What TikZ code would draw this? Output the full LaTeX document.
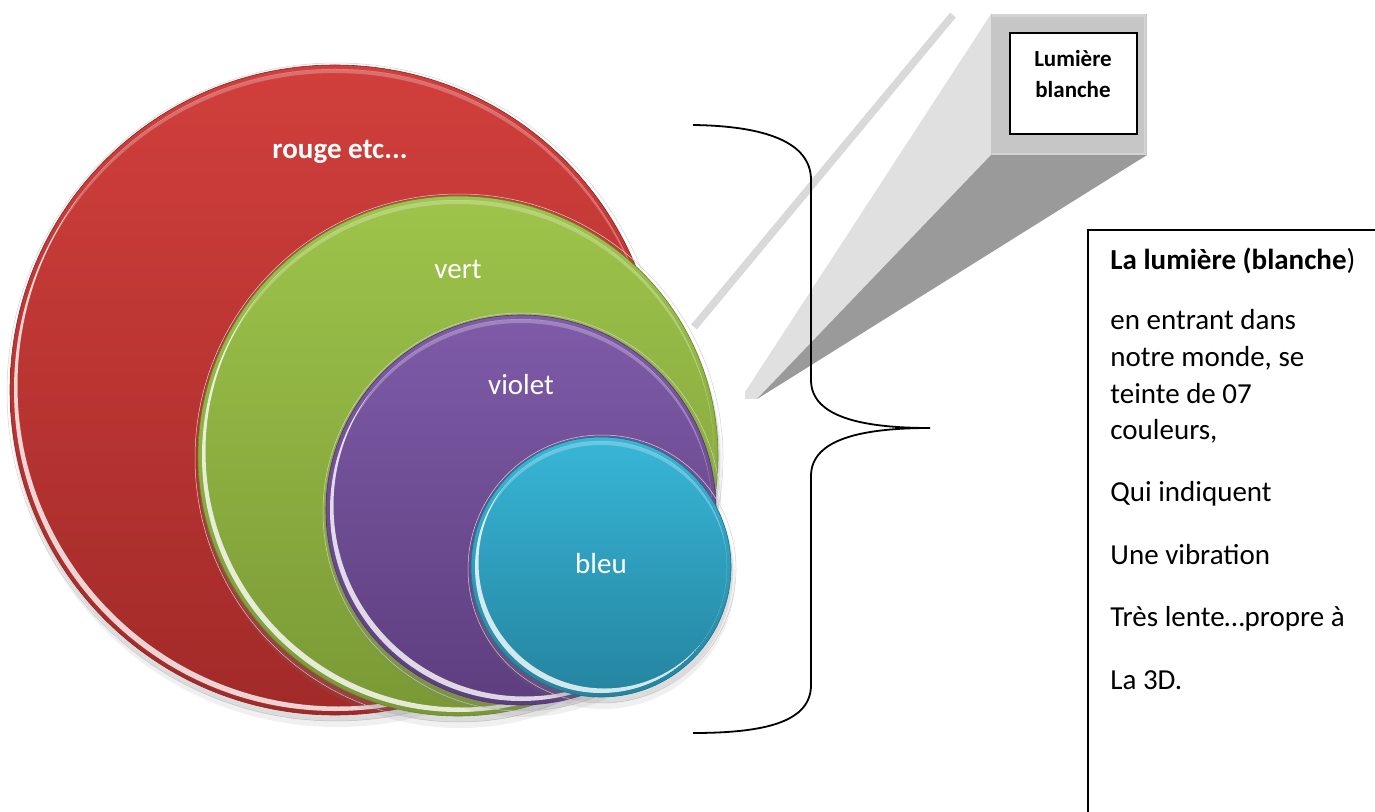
\documentclass[tikz,border=0pt]{standalone}
\usepackage{fontspec}
\setmainfont{Carlito}
\definecolor{redtop}{HTML}{D13F3C}
\definecolor{redbot}{HTML}{A12A28}
\definecolor{greentop}{HTML}{9EC44B}
\definecolor{greenbot}{HTML}{7A9935}
\definecolor{violettop}{HTML}{7F5BA8}
\definecolor{violetbot}{HTML}{5D3E7E}
\definecolor{bluetop}{HTML}{38B6D7}
\definecolor{bluebot}{HTML}{24849F}
\definecolor{barc}{HTML}{D9D9D9}
\definecolor{lightface}{HTML}{E0E0E0}
\definecolor{darkface}{HTML}{9A9A9A}
\definecolor{frontface}{HTML}{C6C6C6}
\definecolor{frontedge}{HTML}{D3D3D3}
\newcommand{\glossball}[5]{%
  \draw[black!18, line width=0.25pt] (#1+1,#2+2) circle[radius=#3+4];
  \fill[gray, opacity=0.12] (#1+2,#2+10) circle[radius=#3+2];
  \fill[gray, opacity=0.18] (#1+1,#2+5) circle[radius=#3+1];
  \shade[top color=#4, bottom color=#5, draw=#5!85!black, line width=0.3pt] (#1,#2) circle[radius=#3];
  \begin{scope}
    \clip (#1,#2) circle[radius=#3-4];
    \fill[white, opacity=0.8, even odd rule] (#1,#2) circle[radius=#3-4] (#1+3.5,#2-4.5) circle[radius=#3-4];
    \fill[white, opacity=0.25, even odd rule] (#1,#2) circle[radius=#3-3] (#1,#2+5) circle[radius=#3-3];
  \end{scope}
}
\begin{document}
\begin{tikzpicture}[x=0.5pt,y=-0.5pt,
  lbl/.style={text=white,font=\fontsize{14.5}{17}\selectfont,anchor=base,inner sep=0pt},
  txt/.style={font=\fontsize{14.5}{17}\selectfont,anchor=base west,inner sep=0pt},
  bxt/.style={font=\bfseries\fontsize{11.5}{14}\selectfont,anchor=base,inner sep=0pt},
  brace/.style={line width=0.9pt, black}
]
\useasboundingbox (0,0) rectangle (1375,812);
\clip (0,0) rectangle (1375,812);

% --- beam of light ---
\coordinate (bartop) at (953,15);
\coordinate (barbot) at (694,327);
\draw[line width=3.75pt, barc] (bartop) -- (barbot);
\coordinate (ftl) at (991,14);
\coordinate (fbl) at (991,155);
\coordinate (fbr) at (1147,155);
\coordinate (tipa) at (745,392);
\coordinate (tipb) at (745,399);
\coordinate (tipc) at (757,399);
\fill[lightface] (ftl) -- (tipa) -- (tipb) -- (tipc) -- (fbl) -- cycle;
\fill[darkface] (fbl) -- (fbr) -- (tipc) -- cycle;
\fill[frontface] (ftl) rectangle (fbr);
\draw[frontedge, line width=1.5pt] (992,16) -- (1146,16);
\draw[frontedge, line width=1pt] (1145,15) -- (1145,154);
\draw[frontedge, line width=1pt] (992,154) -- (1146,154);
\node[draw=black, line width=0.8pt, fill=white, minimum width=63.5pt, minimum height=50.5pt, inner sep=0pt] (lbox) at (1073.5,83.5) {};
\node[bxt] (lum1) at (1073,67) {Lumière};
\node[bxt] (lum2) at (1073,98) {blanche};

% --- circles ---
\glossball{335}{390}{325}{redtop}{redbot}
\glossball{458}{456}{260}{greentop}{greenbot}
\glossball{521}{510}{195}{violettop}{violetbot}
\glossball{601}{567}{130}{bluetop}{bluebot}
\node[lbl, font=\bfseries\fontsize{14.5}{17}\selectfont] (rouge) at (340,159) {rouge etc...};
\node[lbl] (vert) at (458,279) {vert};
\node[lbl] (violet) at (521,394) {violet};
\node[lbl] (bleu) at (601,573) {bleu};

% --- brace ---
\coordinate (brtop) at (693,125);
\coordinate (brtip) at (930,428);
\coordinate (brbot) at (693,733);
\draw[brace] (brtop) .. controls (765,126) and (811,142) .. (811,180)
  -- (811,380) .. controls (811,418) and (865,428) .. (brtip)
  .. controls (865,428) and (811,438) .. (811,476)
  -- (811,685) .. controls (811,722) and (765,733) .. (brbot);

% --- text box ---
\draw[line width=1pt] (1380,230) -- (1088,230) -- (1088,820);
\node[txt] (t1) at (1110,270) {\textbf{La lumière (blanche})};
\node[txt] (t2) at (1110,330) {en entrant dans};
\node[txt] (t3) at (1110,367) {notre monde, se};
\node[txt] (t4) at (1110,403) {teinte de 07};
\node[txt] (t5) at (1110,439) {couleurs,};
\node[txt] (t6) at (1110,501) {Qui indiquent};
\node[txt] (t7) at (1110,564) {Une vibration};
\node[txt] (t8) at (1110,626) {Très lente…propre à};
\node[txt] (t9) at (1110,689) {La 3D.};
\end{tikzpicture}
\end{document}
